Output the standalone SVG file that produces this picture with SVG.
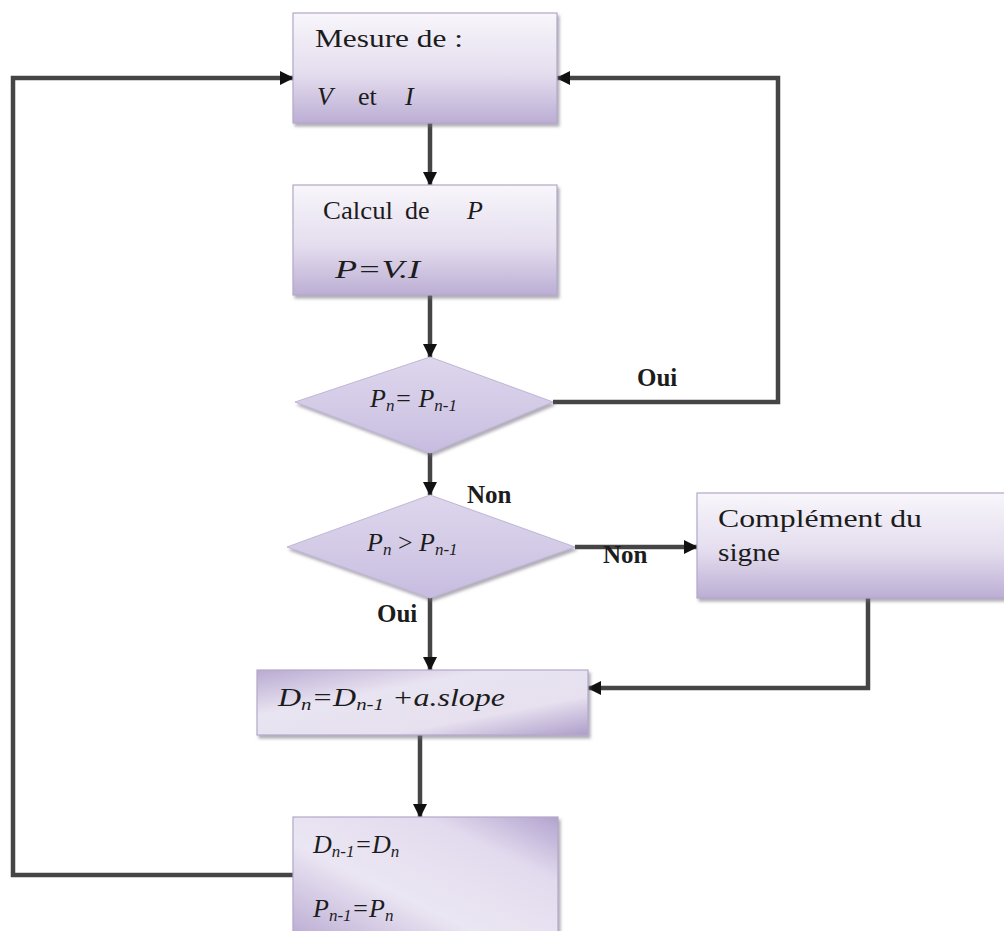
<svg xmlns="http://www.w3.org/2000/svg" width="1004" height="931" viewBox="0 0 1004 931">
  <defs>
    <linearGradient id="boxFill" x1="0" y1="0" x2="0" y2="1">
      <stop offset="0" stop-color="#f8f6fb"/>
      <stop offset="0.55" stop-color="#e4ddee"/>
      <stop offset="1" stop-color="#bcaed4"/>
    </linearGradient>
    <linearGradient id="barFill" x1="0" y1="0" x2="1" y2="1">
      <stop offset="0" stop-color="#b9aad2"/>
      <stop offset="0.35" stop-color="#e9e4f1"/>
      <stop offset="0.7" stop-color="#e6e0ef"/>
      <stop offset="1" stop-color="#ae9dca"/>
    </linearGradient>
    <linearGradient id="lowFill" x1="0" y1="1" x2="1" y2="0">
      <stop offset="0" stop-color="#b6a6d0"/>
      <stop offset="0.4" stop-color="#ebe6f3"/>
      <stop offset="0.75" stop-color="#e2dbee"/>
      <stop offset="1" stop-color="#b3a3cf"/>
    </linearGradient>
    <linearGradient id="diaFill" x1="0" y1="0" x2="0" y2="1">
      <stop offset="0" stop-color="#ddd6ec"/>
      <stop offset="0.5" stop-color="#d4cbe7"/>
      <stop offset="1" stop-color="#c7bce0"/>
    </linearGradient>
    <filter id="shadow" x="-5%" y="-5%" width="115%" height="125%">
      <feDropShadow dx="2" dy="3" stdDeviation="1.5" flood-color="#6f6a7c" flood-opacity="0.55"/>
    </filter>
    <marker id="arrow" viewBox="0 0 14 14" refX="13" refY="7" markerWidth="14" markerHeight="14" markerUnits="userSpaceOnUse" orient="auto">
      <path d="M0,0 L14,7 L0,14 Z" fill="#111"/>
    </marker>
  </defs>
  <style>
    .box { fill: url(#boxFill); stroke: #b3a9c8; stroke-width: 1.2; filter: url(#shadow); }
    .dia { fill: url(#diaFill); stroke: #c0b6d6; stroke-width: 1; filter: url(#shadow); }
    .t { font-family: "Liberation Serif", "Times New Roman", serif; font-size: 26px; fill: #1c1c1c; }
    .i { font-style: italic; }
    .b { font-weight: bold; font-size: 25px; }
    .sub { font-size: 17px; }
    .edge { fill: none; stroke: #454545; stroke-width: 4.5; stroke-linejoin: miter; }
    .edgeCore { fill: none; stroke: #222; stroke-width: 1.5; }
  </style>

  <!-- connectors -->
  <g id="connectors">
    <path class="edge" d="M430,123 V185" marker-end="url(#arrow)"/>
    <path class="edge" d="M430,295 V357" marker-end="url(#arrow)"/>
    <path class="edge" d="M430,453 V495" marker-end="url(#arrow)"/>
    <path class="edge" d="M430,597 V670" marker-end="url(#arrow)"/>
    <path class="edge" d="M420,735 V817" marker-end="url(#arrow)"/>
    <path class="edge" d="M553,402 H778 V78 H557" marker-end="url(#arrow)"/>
    <path class="edge" d="M575,547 H697" marker-end="url(#arrow)"/>
    <path class="edge" d="M868,598 V688 H588" marker-end="url(#arrow)"/>
    <path class="edge" d="M293,875 H13 V78 H293" marker-end="url(#arrow)"/>
  </g>

  <!-- measurement -->
  <g id="mesure">
    <rect class="box" x="293" y="13" width="264" height="110"/>
    <text class="t" x="315" y="47" textLength="148" lengthAdjust="spacingAndGlyphs">Mesure de :</text>
    <text class="t i" x="317" y="105">V</text>
    <text class="t" x="358" y="105">et</text>
    <text class="t i" x="405" y="105">I</text>
  </g>

  <!-- power computation -->
  <g id="calcul">
    <rect class="box" x="293" y="185" width="264" height="110"/>
    <text class="t" x="323" y="219" textLength="70" lengthAdjust="spacingAndGlyphs">Calcul</text>
    <text class="t" x="405" y="219">de</text>
    <text class="t i" x="467" y="219">P</text>
    <text class="t i" x="335" y="278" textLength="85" lengthAdjust="spacingAndGlyphs">P=V.I</text>
  </g>

  <!-- equality test -->
  <g id="test-egal">
    <polygon class="dia" points="430,357 553,402 430,453 295,402"/>
    <text class="t i" x="370" y="407">P<tspan class="sub" dy="4">n</tspan><tspan dy="-4">= P</tspan><tspan class="sub" dy="4">n-1</tspan></text>
  </g>

  <!-- comparison test -->
  <g id="test-sup">
    <polygon class="dia" points="430,495 575,547 430,598 287,547"/>
    <text class="t i" x="367" y="551">P<tspan class="sub" dy="4">n</tspan><tspan dy="-4" font-style="normal"> &gt; </tspan><tspan dy="0">P</tspan><tspan class="sub" dy="4">n-1</tspan></text>
  </g>

  <!-- sign complement -->
  <g id="complement">
    <rect class="box" x="697" y="493" width="320" height="105"/>
    <text class="t" x="718" y="527" textLength="204" lengthAdjust="spacingAndGlyphs">Complément du</text>
    <text class="t" x="718" y="561" textLength="62" lengthAdjust="spacingAndGlyphs">signe</text>
  </g>

  <!-- duty cycle update -->
  <g id="duty">
    <rect class="box" x="257" y="670" width="331" height="65" style="fill:url(#barFill)"/>
    <text class="t i" x="278" y="706" textLength="227" lengthAdjust="spacingAndGlyphs">D<tspan class="sub" dy="4">n</tspan><tspan dy="-4">=D</tspan><tspan class="sub" dy="4">n-1</tspan><tspan dy="-4"> +a.slope</tspan></text>
  </g>

  <!-- state memory -->
  <g id="memoire">
    <rect class="box" x="293" y="817" width="265" height="130" style="fill:url(#lowFill)"/>
    <text class="t i" x="313" y="853">D<tspan class="sub" dy="4">n-1</tspan><tspan dy="-4">=D</tspan><tspan class="sub" dy="4">n</tspan></text>
    <text class="t i" x="313" y="917">P<tspan class="sub" dy="4">n-1</tspan><tspan dy="-4">=P</tspan><tspan class="sub" dy="4">n</tspan></text>
  </g>

  <!-- branch labels -->
  <g id="labels">
    <text class="t b" x="637" y="386">Oui</text>
    <text class="t b" x="467" y="503">Non</text>
    <text class="t b" x="603" y="563">Non</text>
    <text class="t b" x="377" y="622">Oui</text>
  </g>
</svg>
